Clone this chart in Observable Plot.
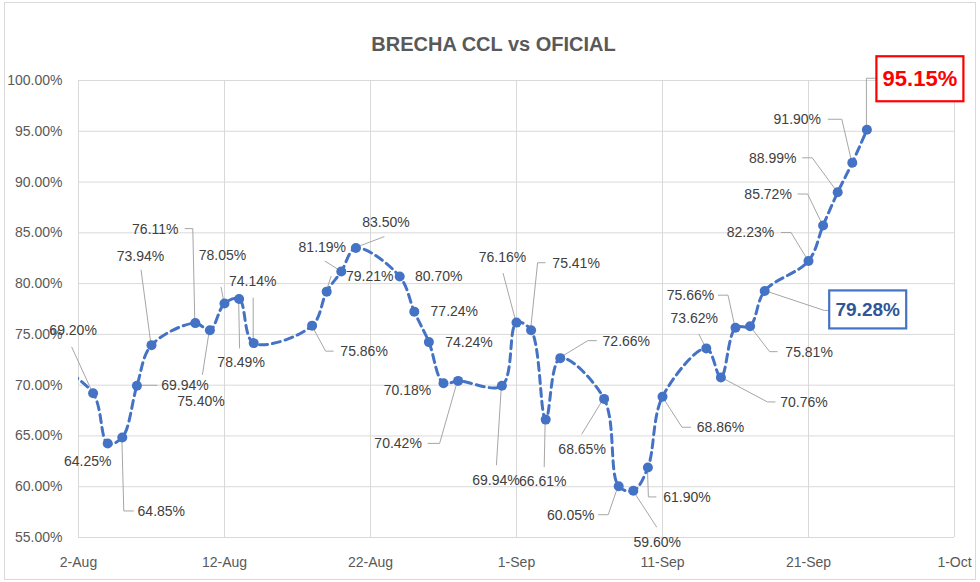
<!DOCTYPE html>
<html><head><meta charset="utf-8">
<script src="https://cdn.jsdelivr.net/npm/d3@7"></script>
<script src="https://cdn.jsdelivr.net/npm/@observablehq/plot@0.6"></script>
<style>
body{margin:0;background:#fff;}
#chart{width:980px;height:582px;}
</style></head><body><div id="chart"></div>
<script>
const title = "BRECHA CCL vs OFICIAL";
// first entry (31-Jul) is only the part of the line that enters from the left edge (no marker, no label)
const dates = ["2020-07-31","2020-08-03","2020-08-04","2020-08-05","2020-08-06","2020-08-07","2020-08-10","2020-08-11","2020-08-12","2020-08-13","2020-08-14","2020-08-18","2020-08-19","2020-08-20","2020-08-21","2020-08-24","2020-08-25","2020-08-26","2020-08-27","2020-08-28","2020-08-31","2020-09-01","2020-09-02","2020-09-03","2020-09-04","2020-09-07","2020-09-08","2020-09-09","2020-09-10","2020-09-11","2020-09-14","2020-09-15","2020-09-16","2020-09-17","2020-09-18","2020-09-21","2020-09-22","2020-09-23","2020-09-24","2020-09-25"];
const values = [72.5,69.20,64.25,64.85,69.94,73.94,76.11,75.40,78.05,78.49,74.14,75.86,79.21,81.19,83.50,80.70,77.24,74.24,70.18,70.42,69.94,76.16,75.41,66.61,72.66,68.65,60.05,59.60,61.90,68.86,73.62,70.76,75.66,75.81,79.28,82.23,85.72,88.99,91.90,95.15];
const xTickDates = ["2020-08-02","2020-08-12","2020-08-22","2020-09-01","2020-09-11","2020-09-21","2020-10-01"];
const yTicks = [55,60,65,70,75,80,85,90,95,100];
const highlightBlue = "2020-09-18";
const highlightRed = "2020-09-25";

// annotation layout (pixel offsets of each label and its leader from its point)
const labelLayout = [
 null,
 {dx:-20,dy:-63,lead:[[-21,-46]]},
 {dx:-20,dy:18,lead:[]},
 {dx:39,dy:74,lead:[[2,74],[12,74]]},
 {dx:48,dy:0,lead:[[21,0]]},
 {dx:-11,dy:-89,lead:[[-10,-75]]},
 {dx:-40,dy:-94,lead:[[-2,-94],[-10,-94]]},
 {dx:-9,dy:71,lead:[[-7,45]]},
 {dx:-2,dy:-48,lead:[[-3,-16]]},
 {dx:2,dy:64,lead:[[1,50]]},
 {dx:-1,dy:-62,lead:[[0,-45]]},
 {dx:52,dy:26,lead:[[14,26],[22,26]]},
 {dx:43,dy:-15,lead:[[5,-15]]},
 {dx:-19,dy:-24,lead:[[-16,-10]]},
 {dx:30,dy:-26,lead:[[29,-11]]},
 {dx:39,dy:0,lead:[]},
 {dx:40,dy:0,lead:[]},
 {dx:40,dy:0,lead:[]},
 {dx:-36,dy:7,lead:[]},
 {dx:-60,dy:63,lead:[[-18,63],[-30,63]]},
 {dx:-6,dy:95,lead:[[-5,80]]},
 {dx:-14,dy:-65,lead:[[-13,-49]]},
 {dx:45,dy:-67,lead:[[7,-67],[15,-67]]},
 {dx:-3,dy:62,lead:[[-1,48]]},
 {dx:66,dy:-17,lead:[[28,-17],[37,-17]]},
 {dx:-22,dy:51,lead:[[-22,36]]},
 {dx:-48,dy:29,lead:[[-10,29],[-20,29]]},
 {dx:24,dy:52,lead:[[24,37]]},
 {dx:39,dy:30,lead:[[1,30],[9,30]]},
 {dx:58,dy:31,lead:[[20,31],[29,31]]},
 {dx:-12,dy:-30,lead:[[-7,-14]]},
 {dx:83,dy:25,lead:[[47,25],[55,25]]},
 {dx:-45,dy:-32,lead:[[-7,-32],[-17,-32]]},
 {dx:59,dy:26,lead:[[20,26],[28,26]]},
 {dx:103,dy:19,lead:[[60,20],[65,20]],box:[65,0,77,38]},
 {dx:-58,dy:-28,lead:[[-17,-28],[-27,-28]]},
 {dx:-55,dy:-31,lead:[[-15,-31],[-25,-31]]},
 {dx:-65,dy:-34,lead:[[-25,-34],[-35,-34]]},
 {dx:-55,dy:-43,lead:[[-10,-43],[-24,-43]]},
 {dx:53,dy:-51,lead:[[0,-51],[10,-51]],box:[10,-73,87,45]}
];

const data = dates.map((d,i)=>({date:new Date(d), key:d, value:values[i], i, label: labelLayout[i] ? values[i].toFixed(2)+"%" : null}));
const shown = data.filter(d=>d.label);
const BLUE = "#4472C4";

function leaders(index, scales) {
  const g = d3.create("svg:g");
  for (const d of shown) {
    const L = labelLayout[d.i];
    const px = scales.x(d.date), py = scales.y(d.value);
    if (L.lead.length) {
      const pts = [[px,py], ...L.lead.map(([a,b])=>[px+a,py+b])];
      g.append("path").attr("d","M"+pts.map(p=>p.join(",")).join("L"))
        .attr("fill","none").attr("stroke","#A6A6A6").attr("stroke-width",1);
    }
  }
  return g.node();
}
function boxes(index, scales) {
  const g = d3.create("svg:g");
  for (const d of shown) {
    const L = labelLayout[d.i];
    if (!L.box) continue;
    const px = scales.x(d.date), py = scales.y(d.value);
    g.append("rect").attr("x",px+L.box[0]).attr("y",py+L.box[1]).attr("width",L.box[2]).attr("height",L.box[3])
      .attr("fill","#fff").attr("stroke", d.key===highlightRed ? "#FF0000" : BLUE).attr("stroke-width",2.2);
  }
  return g.node();
}
function border(index, scales, values, dims) {
  const g = d3.create("svg:g");
  g.append("rect").attr("x",4.5).attr("y",2.5).attr("width",dims.width-9).attr("height",dims.height-5)
    .attr("fill","none").attr("stroke","#D9D9D9");
  return g.node();
}

const labelMarks = shown.map(d=>{
  const L = labelLayout[d.i];
  const isRed = d.key===highlightRed, isBlue = d.key===highlightBlue;
  return Plot.text([d], {x:"date", y:"value", text:"label", dx:L.dx, dy:L.dy,
    fill: isRed ? "#FF0000" : isBlue ? "#2F5597" : "#404040",
    fontWeight: (isRed||isBlue) ? "bold" : "normal",
    fontSize: isRed ? 22 : isBlue ? 19 : 14});
});

const chart = Plot.plot({
  width: 980, height: 582,
  marginLeft: 78, marginRight: 26, marginTop: 80, marginBottom: 45,
  style: {fontFamily: "'Liberation Sans', Arial, sans-serif", fontSize: "14px", color: "#595959", background: "#fff"},
  x: {type: "utc", domain: [new Date(xTickDates[0]), new Date(xTickDates[xTickDates.length-1])]},
  y: {domain: [55, 100]},
  marks: [
    border,
    Plot.gridY(yTicks, {stroke: "#D9D9D9", strokeOpacity: 1}),
    Plot.gridX(xTickDates.map(d=>new Date(d)), {stroke: "#D9D9D9", strokeOpacity: 1}),
    Plot.axisY(yTicks, {tickSize: 0, tickPadding: 16, tickFormat: d=>d.toFixed(2)+"%", label: null}),
    Plot.axisX(xTickDates.map(d=>new Date(d)), {tickSize: 0, tickPadding: 20, tickFormat: d3.utcFormat("%-d-%b"), label: null}),
    leaders,
    Plot.line(data, {x: "date", y: "value", curve: "catmull-rom", stroke: BLUE, strokeWidth: 3, strokeDasharray: "8,5", clip: true}),
    Plot.dot(shown, {x: "date", y: "value", r: 5, fill: BLUE}),
    boxes,
    ...labelMarks,
    Plot.text([title], {text: d=>d, frameAnchor: "top", dx: -23, dy: -44, fontWeight: "bold", fontSize: 20, fill: "#595959"})
  ]
});
document.getElementById("chart").appendChild(chart);
</script></body></html>
